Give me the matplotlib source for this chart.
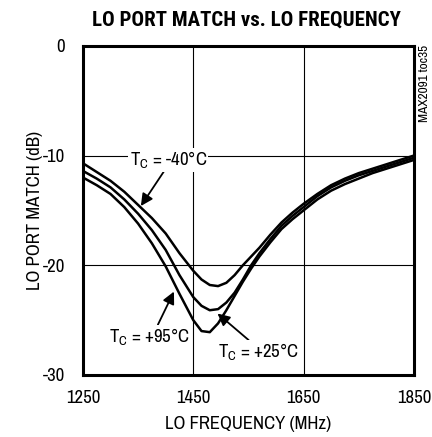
import matplotlib
matplotlib.use("Agg")
import matplotlib.pyplot as plt
import matplotlib.font_manager as fm

# LO port match vs LO frequency, three case temperatures
freq = [1250, 1275, 1300, 1325, 1350, 1375, 1400, 1425, 1450, 1465, 1480, 1495,
        1510, 1525, 1540, 1555, 1570, 1590, 1610, 1630, 1650, 1675, 1700, 1725,
        1750, 1775, 1800, 1825, 1850]
match_m40 = [-10.7, -11.5, -12.3, -13.3, -14.5, -15.7, -17.1, -18.9, -20.5, -21.3, -21.8, -21.9,
             -21.6, -20.9, -20.0, -19.2, -18.4, -17.2, -16.1, -15.2, -14.4, -13.5, -12.7, -12.1,
             -11.6, -11.2, -10.8, -10.4, -10.0]
match_p25 = [-11.4, -12.1, -12.9, -14.0, -15.3, -16.8, -18.6, -20.9, -22.9, -23.7, -24.1, -24.0,
             -23.4, -22.5, -21.3, -20.0, -18.9, -17.6, -16.4, -15.5, -14.7, -13.7, -12.9, -12.3,
             -11.8, -11.4, -11.0, -10.6, -10.2]
match_p95 = [-12.0, -12.7, -13.5, -14.7, -16.2, -18.0, -20.1, -22.6, -25.0, -26.0, -26.1, -25.3,
             -24.1, -22.8, -21.5, -20.3, -19.2, -17.9, -16.7, -15.8, -15.0, -14.0, -13.2, -12.6,
             -12.1, -11.6, -11.2, -10.8, -10.4]

xticks = [1250, 1450, 1650, 1850]
yticks = [0, -10, -20, -30]


def wnum(w):
    return w if isinstance(w, int) else (700 if w == 'bold' else 400)


def pick(family, weight):
    c = [f for f in fm.fontManager.ttflist if f.name == family and f.style == 'normal']
    if not c:
        return None
    f = min(c, key=lambda f: abs(wnum(f.weight) - weight))
    return fm.FontProperties(fname=f.fname)


def heavy_narrow():
    # heaviest narrow / condensed face for the title
    best = None
    for f in fm.fontManager.ttflist:
        nm = f.name.lower()
        narrow = 'narrow' in nm or 'condensed' in nm or f.stretch in ('condensed', 'semi-condensed')
        if not narrow or f.style != 'normal' or wnum(f.weight) < 600:
            continue
        score = (1 if 'roboto' in nm else 2, -wnum(f.weight))
        if best is None or score < best[0]:
            best = (score, f.fname)
    if best:
        return fm.FontProperties(fname=best[1])
    return fm.FontProperties(family='Liberation Sans', weight='bold')


reg = (pick('Archivo Narrow', 400) or pick('Roboto Condensed', 400)
       or fm.FontProperties(family='DejaVu Sans', stretch='condensed'))
bld = heavy_narrow()
fs = 13.5

fig = plt.figure(figsize=(4.32, 4.37), dpi=100)
ax = fig.add_axes([0.192, 0.142, 0.766, 0.753])

for m in (match_m40, match_p25, match_p95):
    ax.plot(freq, m, color='black', lw=1.8, zorder=3)

ax.set_xlim(1250, 1850)
ax.set_ylim(-30, 0)
ax.set_xticks(xticks)
ax.set_yticks(yticks)
ax.set_xticklabels([str(t) for t in xticks], fontproperties=reg, fontsize=fs)
ax.set_yticklabels([str(t) for t in yticks], fontproperties=reg, fontsize=fs)
ax.tick_params(axis='x', length=0, pad=11)
ax.tick_params(axis='y', length=0, pad=13)
ax.grid(True, color='black', lw=0.8)
for s in ax.spines.values():
    s.set_linewidth(2.2)

ax.set_xlabel('LO FREQUENCY (MHz)', fontproperties=reg, fontsize=fs, labelpad=7)
ax.set_ylabel('LO PORT MATCH (dB)', fontproperties=reg, fontsize=fs, labelpad=0)
fig.text(0.57, 0.955, 'LO PORT MATCH vs. LO FREQUENCY', ha='center', va='center',
         fontproperties=bld, fontsize=15)
fig.text(0.983, 0.897, 'MAX2091 toc35', rotation=90, ha='center', va='top',
         fontproperties=reg, fontsize=9.5)

arrow = dict(arrowstyle='-|>', color='black', lw=1.3, mutation_scale=18, shrinkA=0, shrinkB=0)
box = dict(fc='white', ec='none', pad=1)
ax.annotate(r'$\mathregular{T_C}$ = -40°C', xy=(1355, -14.6), xytext=(1405, -10.4),
            ha='center', va='center', fontproperties=reg, fontsize=fs, bbox=box,
            arrowprops=dict(arrow, relpos=(0.45, 0)))
ax.annotate(r'$\mathregular{T_C}$ = +95°C', xy=(1415, -22.4), xytext=(1370, -26.5),
            ha='center', va='center', fontproperties=reg, fontsize=fs, bbox=box,
            arrowprops=dict(arrow, relpos=(0.6, 1)))
ax.annotate(r'$\mathregular{T_C}$ = +25°C', xy=(1494, -24.4), xytext=(1568, -27.9),
            ha='center', va='center', fontproperties=reg, fontsize=fs, bbox=box,
            arrowprops=dict(arrow, relpos=(0.4, 1)))

fig.savefig('out.png', dpi=100)
